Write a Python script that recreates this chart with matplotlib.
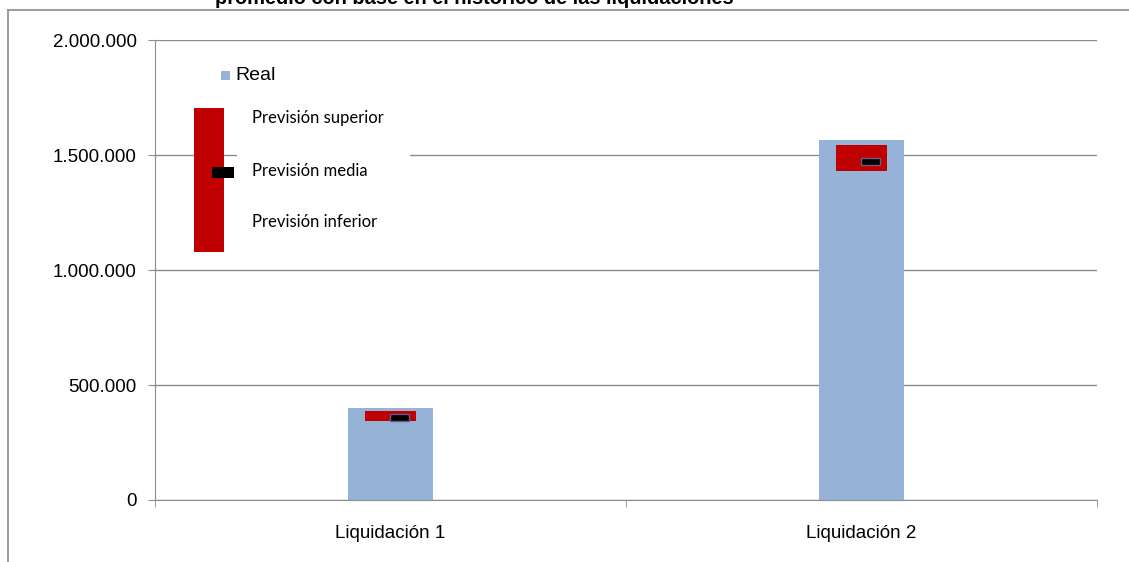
import matplotlib.pyplot as plt
from matplotlib.patches import Rectangle
from matplotlib.lines import Line2D
from matplotlib.ticker import FuncFormatter
import numpy as np

# Datos
categorias = ['Liquidación 1', 'Liquidación 2']
real = [400000, 1565000]
prevision_superior = [387000, 1543000]
prevision_inferior = [343000, 1430000]
prevision_media = [359000, 1470000]

titulo = 'promedio con base en el histórico de las liquidaciones'

azul = '#95B3D7'
rojo = '#C00000'
gris = '#8C8C8C'

W, H = 1129, 562
fig = plt.figure(figsize=(W / 100, H / 100), dpi=100)

def fx(x):
    return x / W

def fy(y):
    return 1 - y / H

ax = fig.add_axes([fx(155), fy(500), fx(1097) - fx(155), fy(40) - fy(500)])

x = np.arange(len(categorias))

# Barras reales
ax.bar(x, real, width=0.18, color=azul, zorder=2)

# Rango de prevision (inferior - superior)
sup = np.array(prevision_superior)
inf = np.array(prevision_inferior)
ax.bar(x, sup - inf, bottom=inf, width=0.108, color=rojo, zorder=3)

# Prevision media
alto = 30000
ax.bar(x + 0.019, alto, bottom=np.array(prevision_media) - alto / 2, width=0.04,
       color='black', edgecolor='#6B5A8C', linewidth=1, zorder=4)

ax.set_xlim(-0.5, 1.5)
ax.set_ylim(0, 2000000)
ax.set_yticks(np.arange(0, 2000001, 500000))
ax.yaxis.set_major_formatter(FuncFormatter(lambda v, p: f'{int(v):,}'.replace(',', '.')))
ax.yaxis.grid(True, color=gris, linewidth=1, zorder=0)
ax.set_axisbelow(True)

ax.set_xticks(x)
ax.set_xticklabels(categorias)
ax.set_xticks([-0.5, 0.5, 1.5], minor=True)
ax.tick_params(axis='x', which='major', length=0, pad=18)
ax.tick_params(axis='x', which='minor', length=5, color=gris, direction='out')
ax.tick_params(axis='y', length=5, color=gris, pad=8)
for lab in ax.get_xticklabels() + ax.get_yticklabels():
    lab.set_fontfamily('Liberation Sans')
    lab.set_fontsize(13.5)

for s in ['top', 'right']:
    ax.spines[s].set_visible(False)
for s in ['left', 'bottom']:
    ax.spines[s].set_color(gris)

# Marco exterior del grafico (recortado)
fig.add_artist(Line2D([fx(8), fx(8)], [fy(10), 0], color=gris, linewidth=1.2))
fig.add_artist(Line2D([fx(8), 1], [fy(10), fy(10)], color=gris, linewidth=1.2))

# Titulo (cortado arriba)
fig.text(fx(474), fy(4), titulo, ha='center', va='baseline',
         fontfamily='Liberation Sans', fontweight='bold', fontsize=14.4)

# Leyenda dibujada a mano
fig.add_artist(Rectangle((fx(237), fy(262)), fx(410) - fx(237), fy(95) - fy(262),
                         transform=fig.transFigure, facecolor='white', edgecolor='none', zorder=5))
fig.add_artist(Rectangle((fx(221), fy(80)), fx(9), fy(71) - fy(80),
                         transform=fig.transFigure, facecolor=azul, edgecolor='none', zorder=6))
fig.text(fx(235), fy(75), 'Real', ha='left', va='center',
         fontfamily='Liberation Sans', fontsize=14, zorder=6)
fig.add_artist(Rectangle((fx(194), fy(252)), fx(30), fy(108) - fy(252),
                         transform=fig.transFigure, facecolor=rojo, edgecolor='none', zorder=6))
fig.add_artist(Rectangle((fx(212), fy(178)), fx(22), fy(167) - fy(178),
                         transform=fig.transFigure, facecolor='black', edgecolor='none', zorder=7))
for texto, yy in [('Previsión superior', 118), ('Previsión media', 171), ('Previsión inferior', 222)]:
    fig.text(fx(252), fy(yy), texto, ha='left', va='center',
             fontfamily='Lato', fontsize=12, zorder=7)

fig.savefig('out.png', dpi=100)
